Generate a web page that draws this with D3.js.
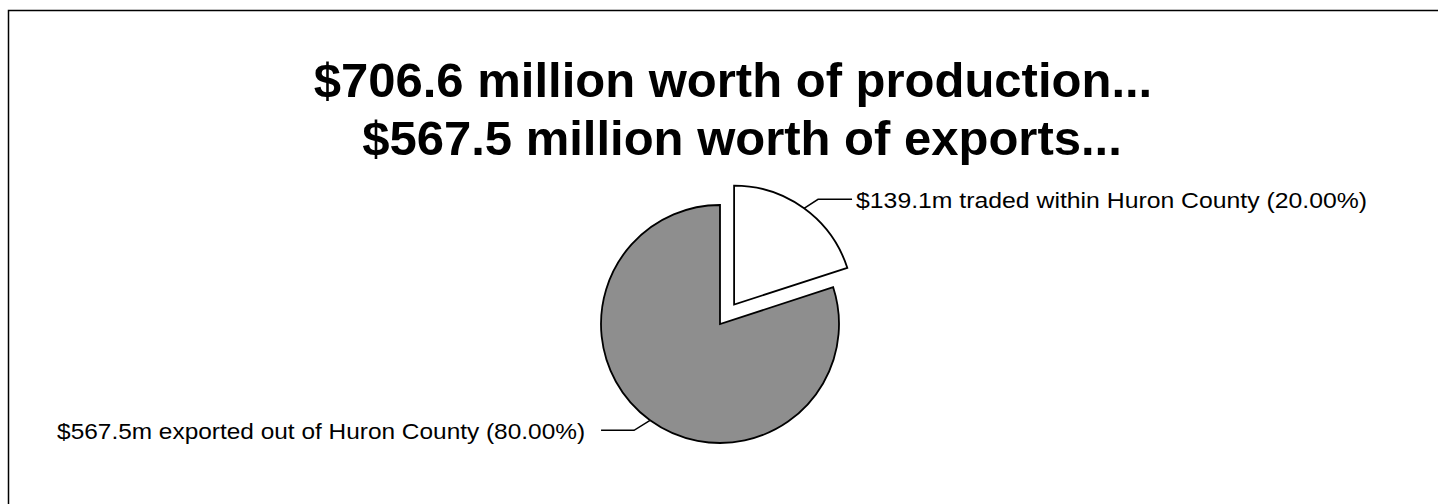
<!DOCTYPE html>
<html>
<head>
<meta charset="utf-8">
<script src="https://cdn.jsdelivr.net/npm/d3@7"></script>
<style>
  html, body { margin: 0; padding: 0; background: #fff; }
  svg { display: block; }
  text { font-family: "Liberation Sans", Arial, sans-serif; fill: #000; }
</style>
</head>
<body>
<svg id="chart" width="1438" height="504"></svg>
<script>
// ---- data ----
const titleLines = ["$706.6 million worth of production...", "$567.5 million worth of exports..."];
const categories = ["traded within Huron County", "exported out of Huron County"];
const valuesM = [139.1, 567.5];          // $ millions
const sharesPct = [20.00, 80.00];         // percent as labelled
const sliceColors = ["#ffffff", "#8e8e8e"];
const explode = [24, 0];

// ---- layout ----
const svg = d3.select("#chart");
const W = 1438, H = 504;
const cx = 720, cy = 324, R = 119;

// frame (top + left lines as in reference)
svg.append("path")
  .attr("d", `M8.5,${H} V10.5 H${W}`)
  .attr("fill", "none").attr("stroke", "#000").attr("stroke-width", 1.5);

// title
const titleX = [733, 742], titleY = [97, 155];
svg.selectAll("text.title").data(titleLines).join("text")
  .attr("class", "title")
  .attr("x", (d, i) => titleX[i]).attr("y", (d, i) => titleY[i])
  .attr("text-anchor", "middle")
  .style("font-size", "49px").style("font-weight", "bold")
  .text(d => d);

// pie
const data = categories.map((c, i) => ({ cat: c, value: valuesM[i], share: sharesPct[i], color: sliceColors[i], ex: explode[i] }));
const pie = d3.pie().sort(null).value(d => d.share);
const arcs = pie(data);
const arc = d3.arc().innerRadius(0).outerRadius(R);

const g = svg.append("g").attr("transform", `translate(${cx},${cy})`);
arcs.forEach(a => {
  const mid = (a.startAngle + a.endAngle) / 2;
  a.mid = mid;
  a.dx = Math.sin(mid) * a.data.ex;
  a.dy = -Math.cos(mid) * a.data.ex;
});

g.selectAll("path.slice").data(arcs).join("path")
  .attr("class", "slice")
  .attr("transform", d => `translate(${d.dx},${d.dy})`)
  .attr("d", arc)
  .attr("fill", d => d.data.color)
  .attr("stroke", "#000").attr("stroke-width", 1.8).attr("stroke-linejoin", "miter");

// leader lines + labels
const fmt = d3.format(".1f"), fmtP = d3.format(".2f");
arcs.forEach(a => {
  const px = a.dx + Math.sin(a.mid) * R;
  const py = a.dy - Math.cos(a.mid) * R;
  const right = Math.sin(a.mid) > 0;
  const ex = px + (right ? 14 : -16);
  const ey = py + (right ? -9 : 10);
  const hx = ex + (right ? 34 : -33);
  g.append("polyline")
    .attr("points", `${px},${py} ${ex},${ey} ${hx},${ey}`)
    .attr("fill", "none").attr("stroke", "#000").attr("stroke-width", 1.5);
  const label = `$${fmt(a.data.value)}m ${a.data.cat} (${fmtP(a.data.share)}%)`;
  g.append("text")
    .attr("x", hx + (right ? 4 : -16))
    .attr("y", ey + 9)
    .attr("text-anchor", right ? "start" : "end")
    .attr("textLength", right ? 511 : 528)
    .attr("lengthAdjust", "spacingAndGlyphs")
    .style("font-size", "22px")
    .text(label);
});
</script>
</body>
</html>
